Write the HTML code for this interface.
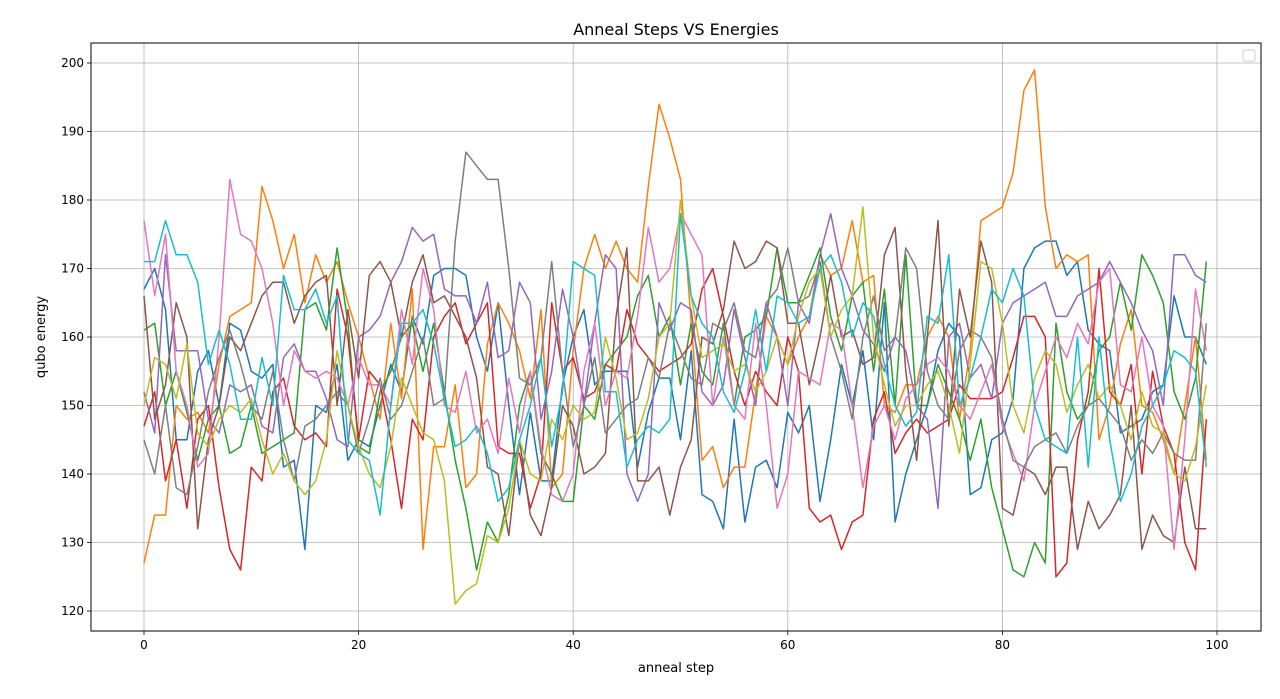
<!DOCTYPE html>
<html><head><meta charset="utf-8"><style>
html,body{margin:0;padding:0;background:#fff;}
svg{display:block;font-family:"DejaVu Sans","Liberation Sans",sans-serif;}
</style></head><body>
<svg id="chart" width="1280" height="699" viewBox="0 0 1280 699" xmlns="http://www.w3.org/2000/svg">
<rect x="0" y="0" width="1280" height="699" fill="#fff"/>
<text x="676" y="35" font-size="16" text-anchor="middle">Anneal Steps VS Energies</text>
<g id="grid"></g><g id="series"></g><g id="axes"></g>
<rect x="91" y="43" width="1170" height="588" fill="none" stroke="#000" stroke-width="1"/>
<rect x="1243" y="50" width="12" height="11" rx="2" fill="#fff" stroke="#ccc" stroke-width="1"/>
<text x="676" y="672" font-size="13" text-anchor="middle">anneal step</text>
<text transform="translate(45,337) rotate(-90)" font-size="13" text-anchor="middle">qubo energy</text>
</svg>
<script>
const xTicks=[0,20,40,60,80,100];
const yTicks=[120,130,140,150,160,170,180,190,200];
const colors=["#1f77b4","#ff7f0e","#2ca02c","#d62728","#9467bd","#8c564b","#e377c2","#7f7f7f","#bcbd22","#17becf"];
const seriesNames=["blue","orange","green","red","purple","brown","pink","gray","olive","cyan"];
const s0=[167,170,164,145,145,155,158,150,162,161,155,154,156,141,142,129,150,149,156,142,145,144,150,156,152,163,159,169,170,170,169,160,155,165,150,137,149,139,139,153,160,164,153,155,155,155,141,149,154,154,145,158,137,136,132,148,133,141,142,138,149,146,150,136,145,156,150,158,145,165,133,140,145,150,158,162,160,137,138,145,146,151,170,173,174,174,169,171,161,159,158,146,147,148,152,153,166,160,160,156];
const s1=[127,134,134,150,148,149,146,156,163,164,165,182,177,170,175,165,172,168,171,165,160,154,148,162,151,167,129,144,144,153,138,140,159,165,162,158,151,164,138,140,158,170,175,170,174,170,168,182,194,189,183,162,142,144,138,141,141,152,163,160,156,160,163,172,169,170,177,168,169,150,149,153,153,160,163,160,148,158,177,178,179,184,196,199,179,170,172,171,172,145,150,159,164,150,149,145,140,150,160,142];
const s2=[161,162,150,155,149,142,148,150,143,144,150,143,144,145,146,164,165,161,173,162,144,143,152,155,160,162,155,162,152,142,135,126,133,130,137,150,155,143,140,136,136,150,148,156,158,160,166,169,160,163,153,162,155,153,162,150,160,161,163,173,165,165,169,173,163,158,166,168,155,167,150,172,150,150,156,152,148,142,148,138,132,126,125,130,127,162,152,148,150,158,160,168,161,172,169,165,152,148,154,171];
const s3=[147,152,139,145,135,148,150,138,129,126,141,139,152,154,147,145,146,144,167,160,145,155,153,145,135,148,145,160,163,165,159,162,165,144,143,143,135,140,165,155,157,151,152,156,155,164,159,157,155,156,157,159,167,170,163,155,150,155,152,150,160,155,135,133,134,129,133,134,148,152,143,146,148,146,147,148,153,151,151,151,152,157,163,163,160,125,127,145,152,170,152,150,156,140,155,147,143,130,126,148];
const s4=[152,146,172,158,158,158,148,146,153,152,153,147,146,157,159,155,155,151,145,144,160,161,163,168,171,176,174,175,167,166,166,162,168,157,158,168,165,148,155,167,160,150,162,172,170,140,136,140,165,161,165,164,152,150,153,164,157,150,165,160,150,165,162,172,178,170,166,161,159,155,160,158,150,148,135,160,162,154,156,151,162,165,166,167,168,163,163,166,167,168,171,168,165,161,158,150,172,172,169,168];
const s5=[166,148,153,165,160,132,145,150,160,158,162,166,168,168,162,166,168,169,150,164,154,169,171,168,160,168,172,165,166,163,160,154,141,140,131,145,134,131,138,150,147,140,141,143,163,173,139,139,141,134,141,145,160,159,164,174,170,171,174,173,162,162,153,160,169,160,161,156,157,172,176,155,142,160,177,147,167,160,174,168,135,134,141,140,137,141,141,129,136,132,134,137,150,129,134,131,130,141,132,132];
const s6=[177,166,175,155,150,141,143,160,183,175,174,170,162,150,158,155,154,155,154,150,157,153,153,150,164,156,170,164,150,149,155,146,148,143,154,146,155,144,137,136,140,155,162,150,155,154,163,176,168,170,178,175,172,150,160,150,148,162,150,135,140,155,154,153,162,161,150,138,147,150,145,151,153,156,157,155,150,148,152,156,147,143,139,150,155,160,157,162,159,168,170,153,152,160,150,147,129,145,167,158];
const s7=[145,140,150,138,137,144,152,157,161,156,150,148,155,145,139,147,148,150,152,150,143,148,154,148,150,155,160,150,151,174,187,185,183,183,170,154,153,157,171,155,144,150,157,146,148,150,151,157,154,162,158,154,153,162,161,165,158,157,165,167,173,165,166,171,160,155,148,160,166,158,160,173,170,155,150,148,158,161,160,157,148,142,141,144,145,146,143,147,150,151,149,147,142,145,143,146,143,142,142,162];
const s8=[150,157,156,151,159,146,144,148,150,149,151,145,140,143,139,137,139,145,158,150,144,140,138,144,154,150,146,145,139,121,123,124,131,130,135,145,140,139,148,145,150,148,149,160,154,145,146,151,160,162,180,166,157,158,159,155,156,152,155,160,156,163,168,170,160,164,166,179,160,153,147,150,150,153,155,150,143,156,171,170,162,150,146,154,158,156,149,153,156,151,153,150,145,152,147,146,140,139,144,153];
const s9=[171,171,177,172,172,168,156,161,156,148,148,157,150,169,164,164,167,162,166,145,143,142,134,150,162,162,164,159,151,144,145,147,143,136,138,145,150,157,144,152,171,170,169,152,152,141,145,147,146,148,178,166,162,160,152,149,155,164,155,166,165,162,163,170,172,168,160,165,163,156,150,147,149,163,162,172,150,154,160,167,165,170,166,150,145,144,143,160,141,160,145,136,140,147,150,153,158,157,155,141];
const allSeries=[s0,s1,s2,s3,s4,s5,s6,s7,s8,s9];
const NS="http://www.w3.org/2000/svg";
const X0=91,X1=1261,Y0=43,Y1=631;
function xs(v){return 144+(v-0)*(1217-144)/100;}
function ys(v){return 611-(v-120)*(611-63)/80;}
const grid=document.getElementById('grid'),axes=document.getElementById('axes'),ser=document.getElementById('series');
function mk(tag,attrs,parent){const e=document.createElementNS(NS,tag);for(const k in attrs)e.setAttribute(k,attrs[k]);parent.appendChild(e);return e;}
xTicks.forEach(t=>{const x=xs(t);
 const g=mk('line',{x1:x,x2:x,y1:Y0,y2:Y1,stroke:'#b0b0b0','stroke-width':0.8},grid);
 
 
 const tk=mk('line',{x1:x,x2:x,y1:Y1,y2:Y1+4,stroke:'#000','stroke-width':0.8},axes);
 
 
 const tx=mk('text',{x:x,y:Y1+18,'font-size':12,'text-anchor':'middle'},axes);tx.textContent=t;
 
 
});
yTicks.forEach(t=>{const y=ys(t);
 const g=mk('line',{x1:X0,x2:X1,y1:y,y2:y,stroke:'#b0b0b0','stroke-width':0.8},grid);
 
 
 const tk=mk('line',{x1:X0-4,x2:X0,y1:y,y2:y,stroke:'#000','stroke-width':0.8},axes);
 
 
 const tx=mk('text',{x:X0-7,y:y+4,'font-size':12,'text-anchor':'end'},axes);tx.textContent=t;
 
 
});
allSeries.forEach((s,i)=>{
 const d=s.map((v,k)=>(k?'L':'M')+xs(k).toFixed(1)+','+ys(v).toFixed(1)).join('');
 const p=mk('path',{d:d,fill:'none',stroke:colors[i],'stroke-width':1.5,'stroke-linejoin':'round'},ser);
 
 
});
</script>
</body></html>
